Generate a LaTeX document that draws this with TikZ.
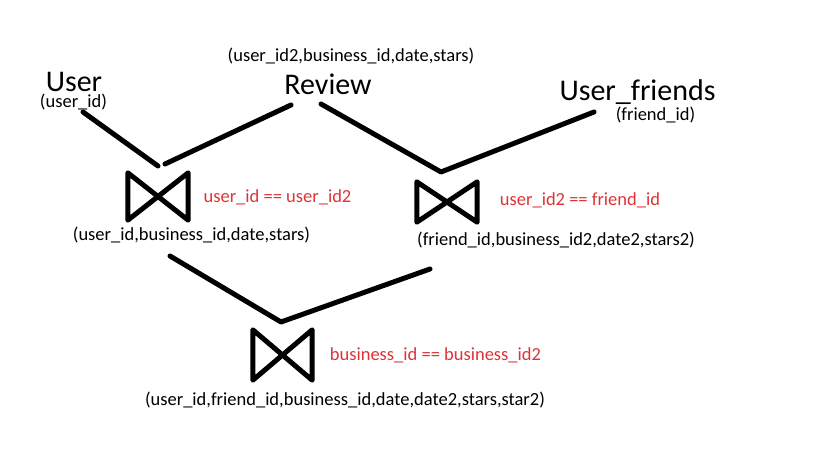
\documentclass[tikz,border=0pt]{standalone}
\usepackage{fontspec}
\setmainfont{Carlito}
\begin{document}
\begin{tikzpicture}[x=1pt,y=-1pt,
  bigtxt/.style={anchor=base,inner sep=0pt,font=\fontsize{30}{30}\selectfont},
  smalltxt/.style={anchor=base,inner sep=0pt,font=\fontsize{18.5}{18.5}\selectfont},
  condtxt/.style={smalltxt,text=condred},
  joinbox/.style={inner sep=0pt,minimum width=60pt},
  stroke/.style={line width=5pt,line cap=round,line join=round}]
\definecolor{condred}{RGB}{222,52,56}
\useasboundingbox (0,0) rectangle (819,460);
\fill[white] (0,0) rectangle (819,460);
% table names
\node[bigtxt] (user) at (74,92) {User};
\node[smalltxt] (userattr) at (73.5,107) {(user\_id)};
\node[bigtxt] (review) at (328,95) {Review};
\node[smalltxt] (reviewattr) at (351,62) {(user\_id2,business\_id,date,stars)};
\node[bigtxt] (friends) at (637.5,100) {User\_friends};
\node[smalltxt] (friendsattr) at (655.5,120) {(friend\_id)};
% join symbols
\node[joinbox,minimum height=47pt] (j1) at (158,196.5) {};
\node[joinbox,minimum height=40pt] (j2) at (447,202) {};
\node[joinbox,minimum width=59pt,minimum height=50pt] (j3) at (282.5,355) {};
\foreach \j in {j1,j2,j3}
  \draw[stroke] (\j.north west) -- (\j.south west) -- (\j.north east) -- (\j.south east) -- cycle;
% conditions and results
\node[condtxt] (c1) at (277.5,202) {user\_id == user\_id2};
\node[smalltxt] (r1) at (191.5,240) {(user\_id,business\_id,date,stars)};
\node[condtxt] (c2) at (580,205) {user\_id2 == friend\_id};
\node[smalltxt] (r2) at (556,245) {(friend\_id,business\_id2,date2,stars2)};
\node[condtxt] (c3) at (435.5,360) {business\_id == business\_id2};
\node[smalltxt] (r3) at (345,405) {(user\_id,friend\_id,business\_id,date,date2,stars,star2)};
% connector end points
\coordinate (uA) at (83,112);
\coordinate (uB) at (158,166);
\coordinate (rA) at (291,105);
\coordinate (rB) at (165,164);
\coordinate (rC) at (321,104);
\coordinate (v2) at (441,172);
\coordinate (fA) at (594,112);
\coordinate (lA) at (170,256);
\coordinate (v3) at (281,322);
\coordinate (lB) at (430,269);
% connectors
\draw[stroke] (uA) -- (uB);
\draw[stroke] (rA) -- (rB);
\draw[stroke] (rC) -- (v2) -- (fA);
\draw[stroke] (lA) -- (v3) -- (lB);
\end{tikzpicture}
\end{document}
